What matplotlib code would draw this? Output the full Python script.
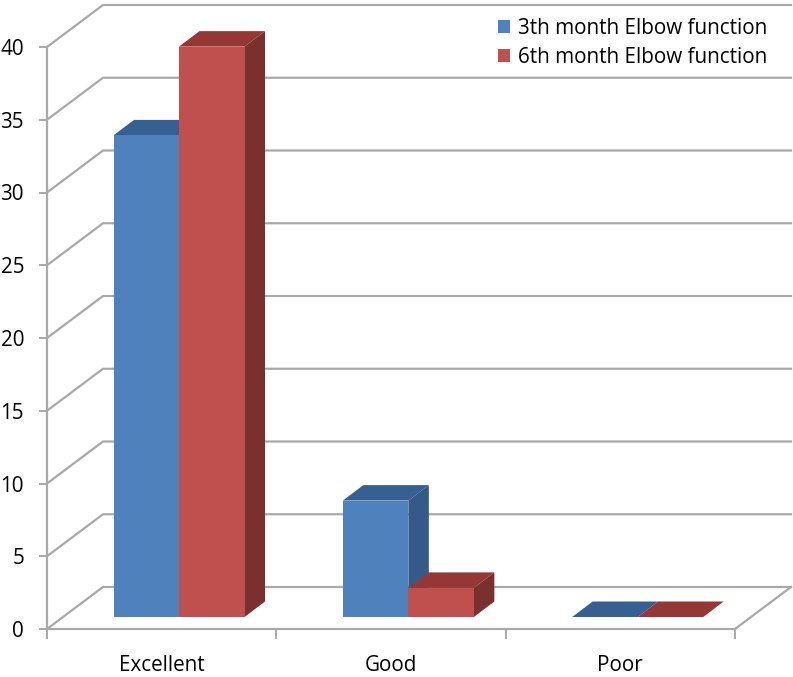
import matplotlib
matplotlib.use("Agg")
import matplotlib.pyplot as plt
from matplotlib.patches import Polygon

categories = ["Excellent", "Good", "Poor"]
series_3th = [33.1, 8.0, 0.0]
series_6th = [39.2, 2.0, 0.0]
label_3th = "3th month Elbow function"
label_6th = "6th month Elbow function"
y_ticks = [0, 5, 10, 15, 20, 25, 30, 35, 40]

W, H = 793, 677
L, R, B, T = 47, 735, 629, 47
plt.rcParams['font.family'] = ['Open Sans', 'DejaVu Sans']
FS = 14.9

fig = plt.figure(figsize=(W / 100, H / 100), dpi=100)
ax = fig.add_axes([L / W, 1 - B / H, (R - L) / W, (B - T) / H])
ax.set_xlim(0, 3)
ax.set_ylim(0, 40)

px_x = 3 / (R - L)
px_y = 40 / (B - T)
wall_dx, wall_dy = 56 * px_x, 42 * px_y
depth_dx, depth_dy = 20.5 * px_x, 15.5 * px_y
floor = 12 * px_y
bar_w = 65.5 * px_x
start = 0.29

GRID = "#A9A9A9"
for v in y_ticks:
    ax.plot([0, wall_dx, 3 + wall_dx], [v, v + wall_dy, v + wall_dy],
            color=GRID, lw=1.6, clip_on=False, zorder=1, solid_joinstyle="miter")
ax.plot([3, 3 + wall_dx], [0, wall_dy], color=GRID, lw=1.6, clip_on=False, zorder=1)


def draw_series(values, offset, front, top, side, label, z):
    xs = [i + start + offset for i in range(len(values))]
    ax.bar(xs, values, width=bar_w, bottom=floor, align="edge", color=front,
           label=label, zorder=z + 1, clip_on=False, linewidth=0)
    for x, v in zip(xs, values):
        y = floor + v
        ax.add_patch(Polygon([(x, y), (x + bar_w, y),
                              (x + bar_w + depth_dx, y + depth_dy),
                              (x + depth_dx, y + depth_dy)],
                             closed=True, fc=top, ec="none", zorder=z, clip_on=False))
        if v > 0:
            ax.add_patch(Polygon([(x + bar_w, floor), (x + bar_w + depth_dx, floor + depth_dy),
                                  (x + bar_w + depth_dx, y + depth_dy), (x + bar_w, y)],
                                 closed=True, fc=side, ec="none", zorder=z, clip_on=False))


draw_series(series_3th, 0, "#4F81BD", "#376092", "#345A88", label_3th, 3)
draw_series(series_6th, bar_w, "#C0504D", "#953735", "#7A302D", label_6th, 5)

for s in ("top", "right"):
    ax.spines[s].set_visible(False)
for s in ("left", "bottom"):
    ax.spines[s].set_color(GRID)
    ax.spines[s].set_linewidth(1.6)
    ax.spines[s].set_zorder(2)
ax.set_facecolor("none")

ax.set_yticks(y_ticks)
ax.tick_params(axis="y", length=6, width=1.4, color=GRID, labelsize=FS, pad=10.5,
               labelcolor="black")
ax.set_xticks([0, 1, 2, 3], ["", "", "", ""])
ax.tick_params(axis="x", which="major", length=7, width=1.4, color=GRID)
ax.set_xticks([0.5, 1.5, 2.5], categories, minor=True)
ax.tick_params(axis="x", which="minor", length=0, labelsize=FS, pad=18.5, labelcolor="black")

leg = ax.legend(loc="upper left", bbox_to_anchor=((498 - L) / (R - L), 1 + (T - 17.5) / (B - T)),
                frameon=False, fontsize=FS, handlelength=0.58, handleheight=0.6,
                handletextpad=0.38, labelspacing=0.4, borderpad=0, borderaxespad=0)

fig.savefig("out.png", dpi=100, facecolor="white")
